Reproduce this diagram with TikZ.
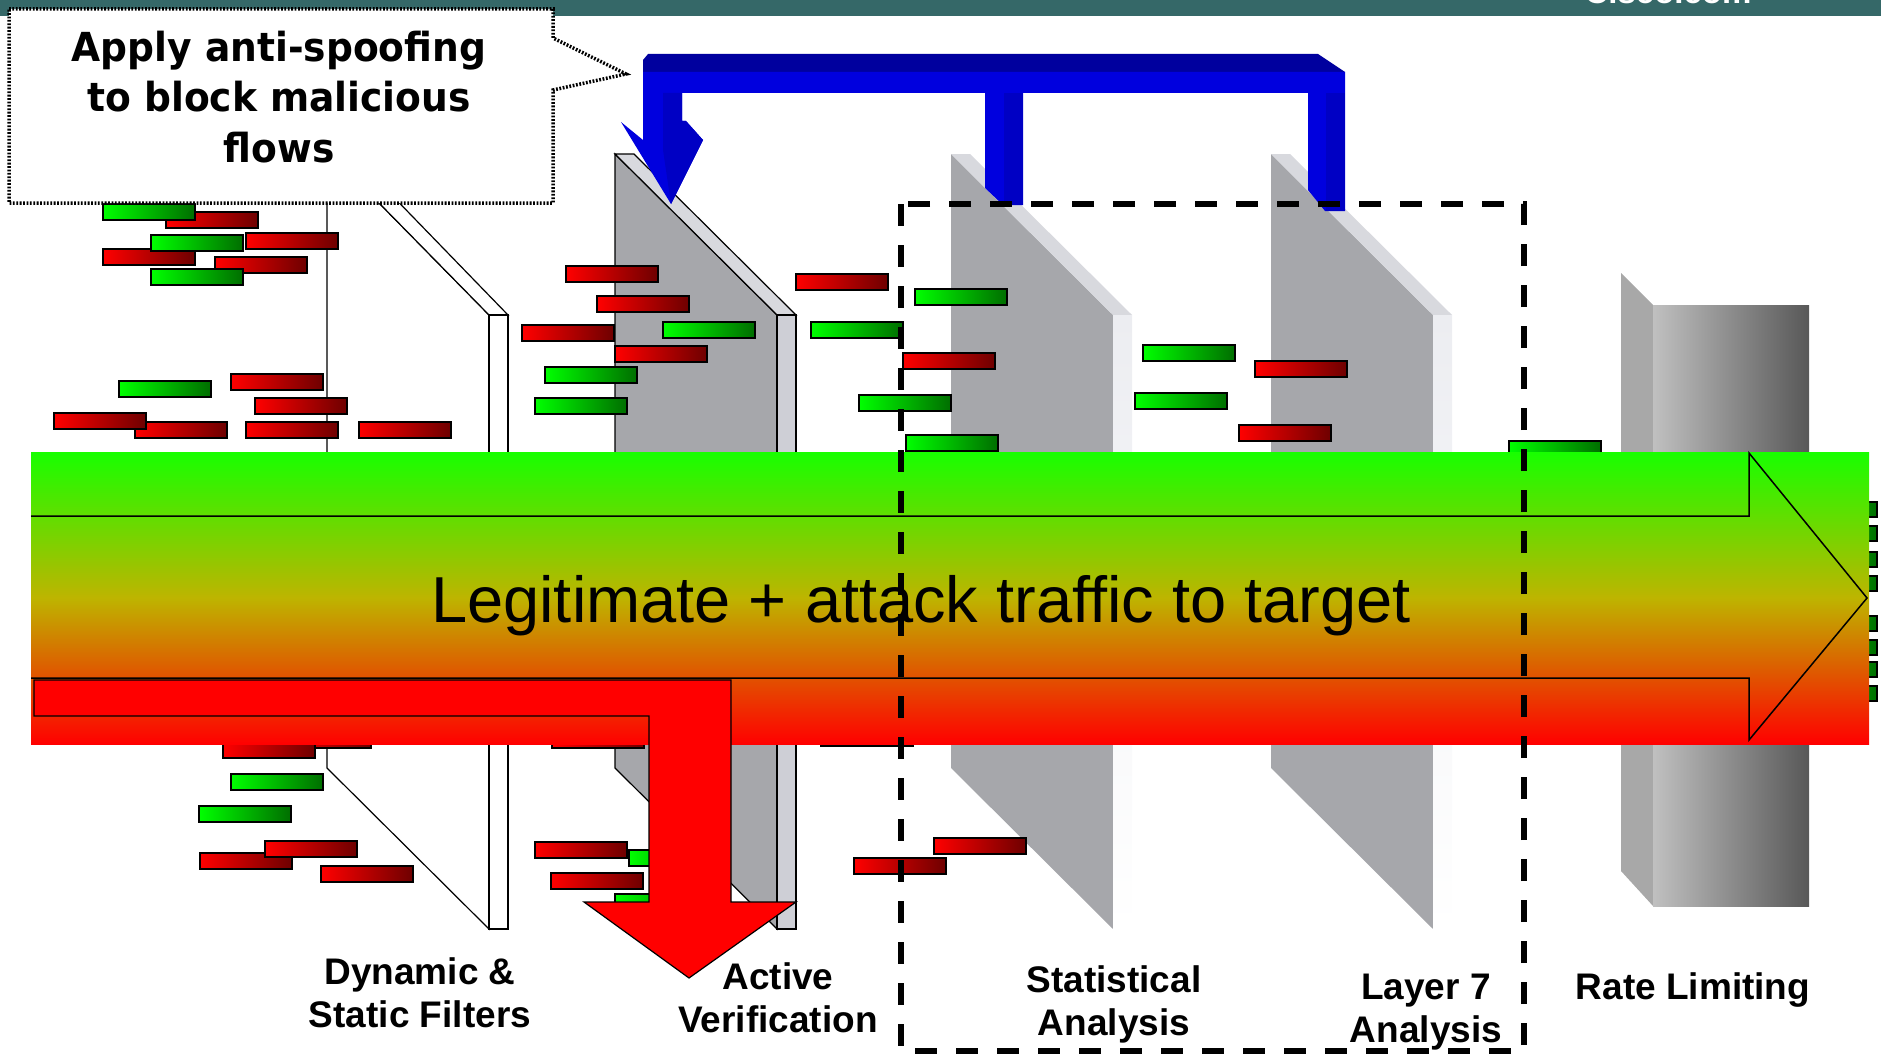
\documentclass[tikz,border=0pt]{standalone}
\usepackage{fontspec}
\setmainfont{Liberation Sans}
\newfontfamily\calloutfont{DejaVu Sans}[FakeStretch=0.94]
\usepackage{tikz}

\definecolor{barteal}{RGB}{53,104,104}
\definecolor{flowgreen}{RGB}{24,255,0}
\definecolor{flowamber}{RGB}{190,180,0}
\definecolor{flowred}{RGB}{255,0,0}
\definecolor{pktred}{RGB}{255,0,0}
\definecolor{pktdarkred}{RGB}{110,0,0}
\definecolor{pktgreen}{RGB}{0,255,0}
\definecolor{pktdarkgreen}{RGB}{0,110,0}
\definecolor{platemid}{RGB}{166,167,171}
\definecolor{platetop}{RGB}{216,217,222}
\definecolor{plateedge}{RGB}{206,207,214}
\definecolor{plateside}{RGB}{236,237,241}
\definecolor{limside}{RGB}{168,168,168}
\definecolor{limlight}{RGB}{192,192,192}
\definecolor{limdark}{RGB}{88,88,88}
\definecolor{bluefront}{RGB}{0,0,222}
\definecolor{bluedark}{RGB}{0,0,196}
\definecolor{bluetop}{RGB}{0,0,158}

\tikzset{
  redpkt/.style={draw=black, line width=1.5pt, left color=pktred, right color=pktdarkred},
  greenpkt/.style={draw=black, line width=1.5pt, left color=pktgreen, right color=pktdarkgreen},
  stage/.style={font=\bfseries\fontsize{37}{43}\selectfont, align=center, inner sep=0pt},
}

\begin{document}
\begin{tikzpicture}[x=1pt, y=-1pt]
  \useasboundingbox (0,0) rectangle (1881,1054);

  % header strip
  \fill[barteal] (0,0) rectangle (1881,16);
  \begin{scope}
    \clip (0,0) rectangle (1881,16);
    \node[anchor=base, text=white, font=\bfseries\fontsize{33}{33}\selectfont] (cisco) at (1668,4) {Cisco.com};
  \end{scope}

  % static filter plate (outline only)
  \draw[line width=1.2pt, fill=white] (327,150) -- (489,315) -- (489,929) -- (327,768) -- cycle;
  \draw[line width=1.2pt, fill=white] (327,150) -- (348,150) -- (508,315) -- (489,315) -- cycle;
  \draw[line width=1.2pt, fill=white] (489,315) rectangle (508,929);

  % active verification plate
  \draw[line width=1.2pt, fill=platemid] (615,154) -- (777,315) -- (777,929) -- (615,768) -- cycle;
  \draw[line width=1.2pt, fill=platetop] (615,154) -- (634,154) -- (796,315) -- (777,315) -- cycle;
  \draw[line width=1.2pt, fill=plateedge] (777,315) rectangle (796,929);

  % statistical and layer 7 plates
  \foreach \L in {951,1271} {
    \fill[platemid] (\L,154) -- (\L+162,315) -- (\L+162,929) -- (\L,768) -- cycle;
    \fill[platetop] (\L,154) -- (\L+19,154) -- (\L+181,315) -- (\L+162,315) -- cycle;
    \shade[top color=plateside, bottom color=white] (\L+162,315) rectangle (\L+181,929);
  }

  % rate limiter block
  \fill[limside] (1621,273) -- (1653,305) -- (1653,906) -- (1621,871) -- cycle;
  \shade[left color=limlight, right color=limdark] (1653,305) rectangle (1809,906);

  % packets
  \foreach \x/\y in {166/212, 246/233, 103/249, 215/257, 231/374, 255/398,
                     135/422, 54/413, 246/422, 359/422,
                     566/266, 597/296, 522/325, 615/346, 796/274,
                     903/353, 1255/361, 1239/425,
                     279/732, 223/742, 552/732, 821/730, 200/853, 265/841,
                     321/866, 535/842, 551/873, 854/858, 934/838}
    \draw[redpkt] (\x,\y) rectangle ++(92,16);
  \foreach \x/\y in {103/204, 151/235, 151/269, 119/381,
                     663/322, 545/367, 535/398, 811/322,
                     915/289, 859/395, 906/435, 1143/345, 1135/393, 1509/441,
                     231/774, 199/806, 629/850, 615/894}
    \draw[greenpkt] (\x,\y) rectangle ++(92,16);
  \foreach \y in {502,526,552,576,616,640,662,686}
    \draw[greenpkt] (1785,\y) rectangle ++(92,15);

  % traffic flow
  \shade[top color=flowgreen, bottom color=flowred, middle color=flowamber] (31,452) rectangle (1869,744);
  \draw[line width=1.5pt] (31,516) -- (1749,516) -- (1749,453) -- (1867,598) -- (1749,740) -- (1749,678) -- (31,678);
  \node[anchor=base, font=\fontsize{65}{65}\selectfont] (traffic) at (921,622) {Legitimate + attack traffic to target};

  % dropped traffic
  \draw[line width=1.2pt, fill=flowred] (34,680) -- (731,680) -- (731,902) -- (796,902) -- (689,978)
    -- (584,902) -- (649,902) -- (649,716) -- (34,716) -- cycle;

  % feedback arrow
  \fill[bluetop] (648,54) -- (1318,54) -- (1345,72) -- (643,72) -- (643,60) -- cycle;
  \fill[bluefront] (643,72) -- (1345,72) -- (1345,211) -- (1325,211) -- (1308,190) -- (1308,93)
    -- (1023,93) -- (1023,205) -- (1003,205) -- (985,188) -- (985,93) -- (682,93) -- (682,121)
    -- (686,121) -- (703,140) -- (671,204) -- (621,122) -- (643,140) -- cycle;
  \fill[bluedark] (1004,93) rectangle (1023,205);
  \fill[bluedark] (1326,93) -- (1345,93) -- (1345,211) -- (1326,211) -- cycle;
  \fill[bluedark] (663,93) -- (682,93) -- (682,121) -- (686,121) -- (703,140) -- (671,204) -- (663,150) -- cycle;

  % analysis stages
  \draw[line width=6pt, dash pattern=on 22pt off 19pt] (901,204) rectangle (1524,1051);

  % callout
  \draw[fill=white, line width=3.5pt, dash pattern=on 1.8pt off 1.6pt]
    (9,9) -- (553,9) -- (553,38) -- (626,74) -- (553,90) -- (553,203) -- (9,203) -- cycle;
  \node[font=\calloutfont\bfseries\fontsize{40}{50.5}\selectfont, align=center] (spoofnote) at (279,97)
    {Apply anti-spoofing\\to block malicious\\flows};

  % stage labels
  \node[stage] (filters) at (420,993) {Dynamic \&\\Static Filters};
  \node[stage] (verify) at (778,998) {Active\\Verification};
  \node[stage] (stats) at (1114,1004) {Statistical\\Analysis};
  \node[stage] (layerseven) at (1426,1012) {Layer 7\\Analysis};
  \node[stage] (ratelimit) at (1693,990) {Rate Limiting};
\end{tikzpicture}
\end{document}
